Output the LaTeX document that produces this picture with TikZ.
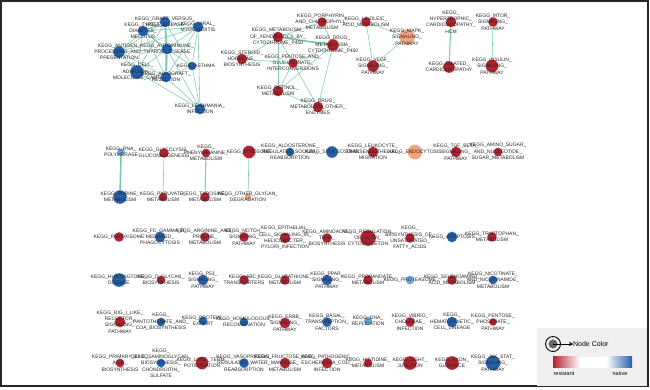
\documentclass[tikz,border=0pt]{standalone}
\usepackage{fontspec}
\setmainfont{Liberation Sans}
\usetikzlibrary{arrows.meta}
\definecolor{res}{RGB}{178,34,46}
\definecolor{nat}{RGB}{36,96,170}
\definecolor{sal}{RGB}{242,162,124}
\definecolor{lblue}{RGB}{104,168,216}
\definecolor{edgec}{RGB}{128,208,176}
\pgfdeclarelayer{bg}\pgfdeclarelayer{mid}
\pgfsetlayers{bg,mid,main}
\tikzset{
  lbl/.style={font=\fontsize{5}{6.3}\selectfont, align=center, text=black!85, inner sep=0pt},
  dot/.style={circle, inner sep=0pt, draw=white, line width=0.2pt},
  ed/.style={draw=edgec, line width=0.6pt},
  edb/.style={draw=edgec!90!teal, line width=1.6pt},
  edm/.style={draw=edgec, line width=1.1pt},
}
\newcommand{\kn}[6]{%
  \begin{pgfonlayer}{mid}\node[dot, fill=#4, minimum size=#5bp] (#1) at (#2,#3) {};\end{pgfonlayer}
  \node[lbl] (#1-l) at (#2,#3) {#6};}
\begin{document}
\begin{tikzpicture}[x=1bp,y=-1bp]
\useasboundingbox (0,0) rectangle (650,389);
\node[draw=black!85, line width=2bp, minimum width=646bp, minimum height=385bp, inner sep=0pt] (frame) at (324.5,193.5) {};
% legend
\node[fill=black!6, minimum width=110bp, minimum height=58bp, inner sep=0pt] (legend) at (592,357) {};
% ---- immune cluster
\kn{graft}{165}{22}{nat}{11}{KEGG\_GRAFT\_VERSUS\_\\HOST\_DISEASE}
\kn{typei}{143}{31}{nat}{11}{KEGG\_TYPE\_I\_\\DIABETES\_\\MELLITUS}
\kn{viral}{198}{27}{nat}{11}{KEGG\_VIRAL\_\\MYOCARDITIS}
\kn{antigen}{119}{52}{nat}{12}{KEGG\_ANTIGEN\_\\PROCESSING\_AND\_\\PRESENTATION}
\kn{autoimm}{167}{49}{nat}{11}{KEGG\_AUTOIMMUNE\_\\THYROID\_DISEASE}
\kn{celladh}{137}{72}{nat}{14}{KEGG\_CELL\_\\ADHESION\_\\MOLECULES\_CAMS}
\kn{allograft}{166}{77}{nat}{11}{KEGG\_ALLOGRAFT\_\\REJECTION}
\kn{asthma}{192}{66}{nat}{9}{\hspace*{8bp}KEGG\_ASTHMA}
\kn{leish}{200}{109}{nat}{11}{KEGG\_LEISHMANIA\_\\INFECTION}
\kn{steroid}{242}{59}{res}{11}{KEGG\_STEROID\_\\HORMONE\_\\BIOSYNTHESIS}
% ---- metabolism cluster
\kn{porph}{322}{22}{res}{10}{KEGG\_PORPHYRIN\_\\AND\_CHLOROPHYLL\_\\METABOLISM}
\kn{xeno}{278}{37}{res}{11}{KEGG\_METABOLISM\_\\OF\_XENOBIOTICS\_BY\_\\CYTOCHROME\_P450}
\kn{linoleic}{366}{22}{res}{10}{KEGG\_LINOLEIC\_\\ACID\_METABOLISM}
\kn{drugp}{333}{45}{res}{12}{KEGG\_DRUG\_\\METABOLISM\_\\CYTOCHROME\_P450}
\kn{mapk}{407}{37}{sal}{16}{KEGG\_MAPK\_\\SIGNALING\_\\PATHWAY}
\kn{pentose}{293}{63}{res}{10}{KEGG\_PENTOSE\_AND\_\\GLUCURONATE\_\\INTERCONVERSIONS}
\kn{vegf}{373}{66}{res}{12}{KEGG\_VEGF\_\\SIGNALING\_\\PATHWAY}
\kn{retinol}{278}{91}{res}{11}{KEGG\_RETINOL\_\\METABOLISM}
\kn{drugo}{318}{107}{res}{11}{KEGG\_DRUG\_\\METABOLISM\_OTHER\_\\ENZYMES}
\kn{hcm}{451}{22}{res}{11}{KEGG\_\\HYPERTROPHIC\_\\CARDIOMYOPATHY\_\\HCM}
\kn{dilated}{449}{67}{res}{12}{KEGG\_DILATED\_\\CARDIOMYOPATHY}
\kn{mtor}{493}{22}{res}{10}{KEGG\_MTOR\_\\SIGNALING\_\\PATHWAY}
\kn{insulin}{492}{66}{res}{13}{KEGG\_INSULIN\_\\SIGNALING\_\\PATHWAY}
% ---- row 2
\kn{rnapol}{121}{152}{lblue}{8}{KEGG\_RNA\_\\POLYMERASE}
\kn{glyco}{164}{153}{res}{10}{KEGG\_GLYCOLYSIS\_\\GLUCONEOGENESIS}
\kn{phenyl}{206}{153}{res}{9}{KEGG\_\\PHENYLALANINE\_\\METABOLISM}
\kn{lyso}{249}{152}{res}{13}{KEGG\_LYSOSOME}
\kn{aldo}{290}{152}{nat}{9}{KEGG\_ALDOSTERONE\_\\REGULATED\_SODIUM\_\\REABSORPTION}
\kn{splice}{332}{152}{nat}{12}{KEGG\_SPLICEOSOME}
\kn{leuko}{373}{152}{res}{11}{KEGG\_LEUKOCYTE\_\\TRANSENDOTHELIAL\_\\MIGRATION}
\kn{endo}{415}{152}{sal}{15}{KEGG\_ENDOCYTOSIS}
\kn{tgf}{456}{152}{res}{11}{KEGG\_TGF\_BETA\_\\SIGNALING\_\\PATHWAY}
\kn{amino}{498}{152}{res}{9}{KEGG\_AMINO\_SUGAR\_\\AND\_NUCLEOTIDE\_\\SUGAR\_METABOLISM}
% ---- row 3
\kn{purine}{120}{197}{nat}{14}{KEGG\_PURINE\_\\METABOLISM}
\kn{pyruv}{163}{197}{res}{9}{KEGG\_PYRUVATE\_\\METABOLISM}
\kn{tyros}{205}{197}{res}{10}{KEGG\_TYROSINE\_\\METABOLISM}
\kn{otherg}{248}{197}{sal}{7}{KEGG\_OTHER\_GLYCAN\_\\DEGRADATION}
% ---- row 4
\kn{perox}{119}{237}{res}{10}{KEGG\_PEROXISOME}
\kn{fcgamma}{160}{237}{nat}{11}{KEGG\_FC\_GAMMA\_R\_\\MEDIATED\_\\PHAGOCYTOSIS}
\kn{arginine}{205}{237}{res}{10}{KEGG\_ARGININE\_AND\_\\PROLINE\_\\METABOLISM}
\kn{notch}{244}{237}{res}{10}{KEGG\_NOTCH\_\\SIGNALING\_\\PATHWAY}
\kn{epith}{285}{238}{res}{11}{KEGG\_EPITHELIAL\_\\CELL\_SIGNALING\_IN\_\\HELICOBACTER\_\\PYLORI\_INFECTION}
\kn{aminoacyl}{327}{238}{res}{10}{KEGG\_AMINOACYL\_\\TRNA\_\\BIOSYNTHESIS}
\kn{actin}{368}{238}{res}{16}{KEGG\_REGULATION\_\\OF\_ACTIN\_\\CYTOSKELETON}
\kn{unsat}{410}{238}{res}{10}{KEGG\_\\BIOSYNTHESIS\_OF\_\\UNSATURATED\_\\FATTY\_ACIDS}
\kn{apopt}{452}{237}{nat}{11}{KEGG\_APOPTOSIS}
\kn{trypt}{492}{237}{res}{10}{KEGG\_TRYPTOPHAN\_\\METABOLISM}
% ---- row 5
\kn{hunt}{119}{280}{nat}{14}{KEGG\_HUNTINGTONS\_\\DISEASE}
\kn{oglycan}{161}{280}{res}{9}{KEGG\_O\_GLYCAN\_\\BIOSYNTHESIS}
\kn{p53}{203}{280}{nat}{11}{KEGG\_P53\_\\SIGNALING\_\\PATHWAY}
\kn{abc}{244}{280}{res}{10}{KEGG\_ABC\_\\TRANSPORTERS}
\kn{gluta}{285}{280}{res}{10}{KEGG\_GLUTATHIONE\_\\METABOLISM}
\kn{ppar}{327}{280}{nat}{11}{KEGG\_PPAR\_\\SIGNALING\_\\PATHWAY}
\kn{propan}{368}{280}{res}{10}{KEGG\_PROPANOATE\_\\METABOLISM}
\kn{proteas}{410}{280}{lblue}{9}{KEGG\_PROTEASOME}
\kn{seleno}{452}{280}{res}{10}{KEGG\_SELENOAMINO\_\\ACID\_METABOLISM}
\kn{nicot}{493}{280}{nat}{9}{KEGG\_NICOTINATE\_\\AND\_NICOTINAMIDE\_\\METABOLISM}
% ---- row 6
\kn{rig}{120}{322}{res}{11}{KEGG\_RIG\_I\_LIKE\_\\RECEPTOR\_\\SIGNALING\_\\PATHWAY}
\kn{panto}{161}{322}{nat}{9}{KEGG\_\\PANTOTHENATE\_AND\_\\COA\_BIOSYNTHESIS}
\kn{protexp}{203}{321}{nat}{9}{KEGG\_PROTEIN\_\\EXPORT}
\kn{homolog}{244}{322}{nat}{9}{KEGG\_HOMOLOGOUS\_\\RECOMBINATION}
\kn{erbb}{285}{323}{res}{11}{KEGG\_ERBB\_\\SIGNALING\_\\PATHWAY}
\kn{basal}{327}{322}{nat}{10}{KEGG\_BASAL\_\\TRANSCRIPTION\_\\FACTORS}
\kn{dna}{368}{321}{lblue}{9}{KEGG\_DNA\_\\REPLICATION}
\kn{vibrio}{410}{322}{res}{10}{KEGG\_VIBRIO\_\\CHOLERAE\_\\INFECTION}
\kn{hemato}{452}{322}{nat}{11}{KEGG\_\\HEMATOPOIETIC\_\\CELL\_LINEAGE}
\kn{pentph}{493}{322}{res}{8}{KEGG\_PENTOSE\_\\PHOSPHATE\_\\PATHWAY}
% ---- row 7
\kn{bile}{120}{363}{res}{9}{KEGG\_PRIMARY\_BILE\_\\ACID\_\\BIOSYNTHESIS}
\kn{gag}{161}{363}{nat}{9}{KEGG\_\\GLYCOSAMINOGLYCAN\_\\BIOSYNTHESIS\_\\CHONDROITIN\_\\SULFATE}
\kn{ltp}{202}{363}{res}{13}{KEGG\_LONG\_TERM\_\\POTENTIATION}
\kn{vaso}{244}{363}{nat}{10}{KEGG\_VASOPRESSIN\_\\REGULATED\_WATER\_\\REABSORPTION}
\kn{fruct}{285}{363}{res}{11}{KEGG\_FRUCTOSE\_AND\_\\MANNOSE\_\\METABOLISM}
\kn{pathec}{327}{363}{res}{11}{KEGG\_PATHOGENIC\_\\ESCHERICHIA\_COLI\_\\INFECTION}
\kn{histid}{368}{363}{res}{9}{KEGG\_HISTIDINE\_\\METABOLISM}
\kn{tight}{410}{363}{res}{14}{KEGG\_TIGHT\_\\JUNCTION}
\kn{axon}{452}{363}{res}{14}{KEGG\_AXON\_\\GUIDANCE}
\kn{jak}{493}{363}{nat}{15}{KEGG\_JAK\_STAT\_\\SIGNALING\_\\PATHWAY}
% ---- edges
\begin{pgfonlayer}{bg}
\draw[edb] (graft) -- (autoimm);
\draw[edb] (autoimm) -- (allograft);
\draw[edm] (graft) -- (typei);
\draw[edm] (typei) -- (autoimm);
\draw[ed] (graft) -- (viral);
\draw[ed] (graft) -- (antigen);
\draw[ed] (graft) -- (celladh);
\draw[ed] (graft) -- (allograft);
\draw[ed] (graft) -- (asthma);
\draw[ed] (typei) -- (viral);
\draw[ed] (typei) -- (antigen);
\draw[ed] (typei) -- (celladh);
\draw[ed] (typei) -- (allograft);
\draw[ed] (viral) -- (autoimm);
\draw[ed] (viral) -- (asthma);
\draw[ed] (viral) -- (allograft);
\draw[ed] (viral) -- (antigen);
\draw[ed] (viral) -- (leish);
\draw[ed] (antigen) -- (autoimm);
\draw[ed] (antigen) -- (celladh);
\draw[ed] (antigen) -- (allograft);
\draw[ed] (autoimm) -- (asthma);
\draw[ed] (autoimm) -- (celladh);
\draw[ed] (celladh) -- (allograft);
\draw[ed] (asthma) -- (allograft);
\draw[ed] (leish) -- (allograft);
\draw[ed] (leish) -- (celladh);
\draw[ed] (leish) -- (asthma);
\draw[ed] (leish) -- (autoimm);
\draw[ed] (steroid) -- (pentose);
\draw[ed] (steroid) -- (xeno);
\draw[edb] (xeno) -- (drugp);
\draw[ed] (xeno) -- (porph);
\draw[ed] (porph) -- (drugp);
\draw[ed] (xeno) -- (pentose);
\draw[ed] (xeno) -- (retinol);
\draw[ed] (drugp) -- (pentose);
\draw[ed] (drugp) -- (retinol);
\draw[ed] (drugp) -- (drugo);
\draw[ed] (pentose) -- (retinol);
\draw[ed] (pentose) -- (drugo);
\draw[ed] (retinol) -- (drugo);
\draw[ed] (linoleic) -- (vegf);
\draw[ed] (linoleic) -- (mapk);
\draw[ed] (mapk) -- (vegf);
\draw[edm] (hcm) -- (dilated);
\draw[ed] (mtor) -- (insulin);
\draw[edb] (rnapol) -- (purine);
\draw[ed] (glyco) -- (pyruv);
\draw[edm] (phenyl) -- (tyros);
\draw[ed] (lyso) -- (otherg);
\end{pgfonlayer}
% legend content
\node[circle, draw=black, line width=0.9bp, minimum size=15bp, inner sep=0pt] (ring) at (553,344) {};
\node[circle, fill=black!60, minimum size=9bp, inner sep=0pt] (core) at (553,344) {};
\node[font=\fontsize{7}{8}\selectfont, anchor=west, inner sep=0pt] (nc) at (573,344) {Node Color};
\draw[-{Stealth[length=4bp,width=4bp]}, line width=0.9bp] (core.center) -- (nc.west);
\node[minimum width=27bp, minimum height=11bp, inner sep=0pt, left color=res, right color=white] (gl) at (566.5,362) {};
\node[minimum width=26bp, minimum height=11bp, inner sep=0pt, fill=white] (gm) at (593,362) {};
\node[minimum width=26bp, minimum height=11bp, inner sep=0pt, left color=white, right color=nat] (gr) at (619,362) {};
\node[font=\fontsize{5.5}{6}\selectfont, inner sep=0pt] (lr) at (564,374) {resistant};
\node[font=\fontsize{5.5}{6}\selectfont, inner sep=0pt] (ln) at (620,374) {native};
\end{tikzpicture}
\end{document}
